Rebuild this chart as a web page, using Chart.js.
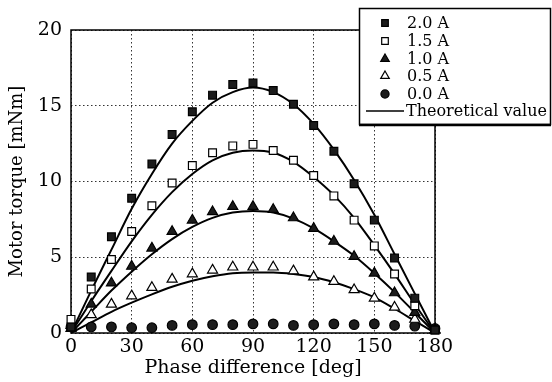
<!DOCTYPE html>
<html>
<head>
<meta charset="utf-8">
<script src="https://cdn.jsdelivr.net/npm/chart.js@4.4.1/dist/chart.umd.min.js"></script>
<style>
    html, body { margin: 0; padding: 0; background: #fff; }
    #wrap { width: 552px; height: 382px; }
</style>
</head>
<body>
<div id="wrap"><canvas id="torqueChart" width="552" height="382"></canvas></div>
<script>
// Données
const phase = [0, 10, 20, 30, 40, 50, 60, 70, 80, 90, 100, 110, 120, 130, 140, 150, 160, 170, 180];

const measured2_0 = [0.4, 3.7, 6.35, 8.9, 11.15, 13.1, 14.6, 15.7, 16.4, 16.5, 16.0, 15.1, 13.7, 12.0, 9.85, 7.45, 4.95, 2.3, 0.2];
const measured1_5 = [0.9, 2.9, 4.85, 6.7, 8.4, 9.9, 11.05, 11.9, 12.35, 12.45, 12.05, 11.4, 10.4, 9.05, 7.45, 5.75, 3.9, 1.8, 0.2];
const measured1_0 = [0.3, 1.9, 3.3, 4.4, 5.6, 6.7, 7.45, 8.0, 8.35, 8.35, 8.15, 7.6, 6.9, 6.05, 5.05, 3.95, 2.65, 1.35, 0.2];
const measured0_5 = [0.5, 1.2, 1.9, 2.45, 3.0, 3.55, 3.9, 4.15, 4.35, 4.35, 4.35, 4.1, 3.7, 3.4, 2.85, 2.3, 1.7, 0.9, 0.2];
const measured0_0 = [0.4, 0.4, 0.4, 0.35, 0.35, 0.5, 0.55, 0.55, 0.55, 0.6, 0.6, 0.5, 0.55, 0.6, 0.55, 0.6, 0.5, 0.45, 0.3];

const theory2_0 = [0, 2.8, 5.5, 8.2, 10.5, 12.5, 14.0, 15.2, 15.9, 16.2, 15.9, 15.1, 13.8, 12.1, 10.1, 7.8, 5.2, 2.6, 0];
const theory1_5 = [0, 2.1, 4.1, 6.05, 7.8, 9.3, 10.5, 11.4, 11.9, 12.05, 11.9, 11.3, 10.3, 9.1, 7.6, 5.8, 3.9, 1.9, 0];
const theory1_0 = [0, 1.4, 2.8, 4.05, 5.2, 6.2, 7.0, 7.6, 7.95, 8.05, 7.95, 7.55, 6.9, 6.05, 5.1, 3.95, 2.7, 1.35, 0];
const theory0_5 = [0, 0.7, 1.4, 2.0, 2.55, 3.05, 3.45, 3.75, 3.95, 4.0, 4.0, 3.9, 3.7, 3.35, 2.9, 2.35, 1.6, 0.8, 0];

const xTicks = [0, 30, 60, 90, 120, 150, 180];
const yTicks = [0, 5, 10, 15, 20];

const serif = 'DejaVu Serif';

function toPoints(values) {
    return phase.map((x, i) => ({ x: x, y: values[i] }));
}

function markerSet(label, values, style, filled, radius) {
    return {
        label: label,
        data: toPoints(values),
        showLine: false,
        pointStyle: style,
        pointRadius: radius,
        pointBorderWidth: 1.2,
        pointBackgroundColor: filled ? '#1c1c1c' : '#ffffff',
        pointBorderColor: '#000',
        clip: false,
        order: 0
    };
}

function theorySet(values) {
    return {
        label: 'Theoretical value',
        data: toPoints(values),
        showLine: true,
        pointRadius: 0,
        borderColor: '#000',
        borderWidth: 2,
        cubicInterpolationMode: 'monotone',
        fill: false,
        order: 1
    };
}

// Cadre du graphique (trait plein)
const framePlugin = {
    id: 'frame',
    beforeDatasetsDraw(chart) {
        const { ctx, chartArea: a } = chart;
        ctx.save();
        ctx.strokeStyle = '#000';
        ctx.lineWidth = 1.5;
        ctx.strokeRect(a.left, a.top, a.right - a.left, a.bottom - a.top);
        ctx.restore();
    }
};

// Légende encadrée en haut à droite
const legendBoxPlugin = {
    id: 'legendBox',
    afterDraw(chart) {
        const ctx = chart.ctx;
        const box = { x: 359, y: 8, w: 191, h: 116 };
        ctx.save();
        ctx.fillStyle = '#fff';
        ctx.fillRect(box.x, box.y, box.w, box.h);
        ctx.strokeStyle = '#000';
        ctx.lineWidth = 1.5;
        ctx.strokeRect(box.x + 0.5, box.y + 0.5, box.w, box.h);
        ctx.lineWidth = 2.5;
        ctx.beginPath();
        ctx.moveTo(box.x, box.y + box.h + 1);
        ctx.lineTo(box.x + box.w + 1, box.y + box.h + 1);
        ctx.stroke();

        const rowY = [23, 41, 59, 76, 94, 111];
        ctx.font = '16px "' + serif + '"';
        ctx.textBaseline = 'middle';
        ctx.textAlign = 'left';

        chart.data.datasets.slice(0, 5).forEach((ds, i) => {
            ctx.fillStyle = ds.pointBackgroundColor;
            ctx.strokeStyle = '#000';
            ctx.lineWidth = 1.2;
            Chart.helpers.drawPoint(ctx, {
                pointStyle: ds.pointStyle,
                radius: ds.pointRadius * 0.85,
                rotation: 0,
                borderWidth: 1.2
            }, 385, rowY[i]);
            ctx.fillStyle = '#000';
            ctx.fillText(ds.label, 407, rowY[i] + 1);
        });

        ctx.lineWidth = 1.5;
        ctx.beginPath();
        ctx.moveTo(366, rowY[5]);
        ctx.lineTo(404, rowY[5]);
        ctx.stroke();
        ctx.fillText('Theoretical value', 406, rowY[5] + 1);
        ctx.restore();
    }
};

const torqueChart = new Chart(document.getElementById('torqueChart'), {
    type: 'scatter',
    data: {
        datasets: [
            markerSet('2.0 A', measured2_0, 'rect', true, 5.5),
            markerSet('1.5 A', measured1_5, 'rect', false, 5.5),
            markerSet('1.0 A', measured1_0, 'triangle', true, 5.8),
            markerSet('0.5 A', measured0_5, 'triangle', false, 5.8),
            markerSet('0.0 A', measured0_0, 'circle', true, 4.8),
            theorySet(theory2_0),
            theorySet(theory1_5),
            theorySet(theory1_0),
            theorySet(theory0_5)
        ]
    },
    options: {
        responsive: false,
        animation: false,
        layout: { padding: { top: 30, right: 117, left: 0, bottom: 0 } },
        plugins: {
            legend: { display: false },
            tooltip: { enabled: false }
        },
        scales: {
            x: {
                type: 'linear',
                min: 0,
                max: 180,
                afterBuildTicks: (scale) => { scale.ticks = xTicks.map(v => ({ value: v })); },
                afterFit: (scale) => { scale.height = 49; },
                ticks: {
                    color: '#000',
                    font: { family: serif, size: 19 },
                    padding: 3,
                    maxRotation: 0
                },
                grid: { color: '#333', lineWidth: 1, drawTicks: false },
                border: { display: false, dash: [1.5, 2.5] },
                title: {
                    display: true,
                    text: 'Phase difference [deg]',
                    color: '#000',
                    font: { family: serif, size: 19 },
                    padding: { top: 0, bottom: 3 }
                }
            },
            y: {
                type: 'linear',
                min: 0,
                max: 20,
                afterBuildTicks: (scale) => { scale.ticks = yTicks.map(v => ({ value: v })); },
                afterFit: (scale) => { scale.width = 71; },
                ticks: {
                    color: '#000',
                    font: { family: serif, size: 19 },
                    padding: 9
                },
                grid: { color: '#333', lineWidth: 1, drawTicks: false },
                border: { display: false, dash: [1.5, 2.5] },
                title: {
                    display: true,
                    text: 'Motor torque [mNm]',
                    color: '#000',
                    font: { family: serif, size: 18 },
                    padding: { top: 7, bottom: 0 }
                }
            }
        }
    },
    plugins: [framePlugin, legendBoxPlugin]
});
</script>
</body>
</html>
